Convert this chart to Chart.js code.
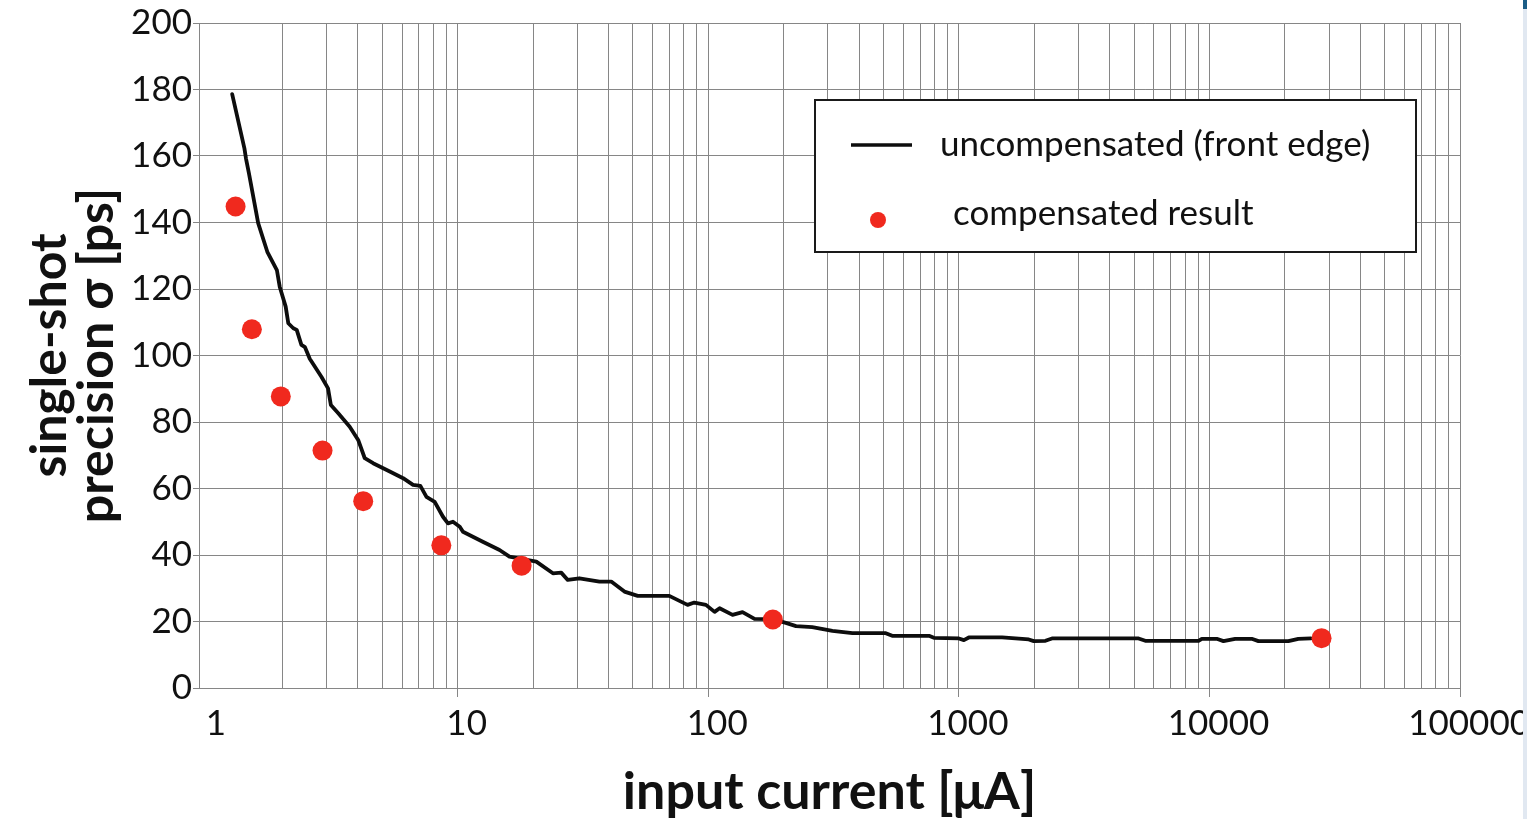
<!DOCTYPE html>
<html>
<head>
<meta charset="utf-8">
<script src="https://cdn.jsdelivr.net/npm/chart.js@4.4.1/dist/chart.umd.min.js"></script>
<style>
	html, body { margin: 0; padding: 0; background: #fff; overflow: hidden; }
	#wrap { position: relative; width: 1527px; height: 819px; }
	#edge { position: absolute; right: 0; top: 0; width: 4px; height: 819px; background: #e1e8f1; }
	#edgeTop { position: absolute; right: 0; top: 0; width: 4px; height: 9px; background: #1b5d86; }
</style>
</head>
<body>
<div id="wrap">
	<canvas id="chart" width="1527" height="819"></canvas>
	<div id="edge"></div>
	<div id="edgeTop"></div>
</div>
<script>
// uncompensated (front edge) curve
const uncompCurrent = [1.26, 1.41, 1.43, 1.47, 1.60, 1.74, 1.90, 1.95, 2.06, 2.11,
	2.21, 2.28, 2.38, 2.46, 2.57, 2.86, 3.04, 3.12, 3.34, 3.71,
	4.01, 4.26, 4.60, 5.36, 6.06, 6.64, 7.10, 7.51, 8.10, 8.74,
	9.15, 9.58, 10.2, 10.5, 12.6, 14.7, 16.1, 20.6, 24.0, 25.9,
	27.5, 30.6, 36.8, 41.0, 46.3, 52.3, 69.9, 82.7, 88.0, 97.9,
	106, 111, 125, 137, 153, 180, 204, 224, 260, 313,
	376, 511, 542, 760, 795, 1000, 1047, 1096, 1488, 1901,
	1990, 2215, 2353, 5214, 5543, 9042, 9319, 10690, 11370, 12660,
	14740, 15680, 20640, 22620, 25400];
const uncompSigma = [178.6, 162.3, 159.3, 154.8, 139.8, 131.2, 125.7, 120.7, 114.7, 109.7,
	108.2, 107.7, 103.2, 102.5, 99.0, 93.6, 90.1, 85.1, 82.6, 78.6,
	74.6, 69.1, 67.6, 65.1, 63.1, 61.1, 60.8, 57.5, 56.0, 51.5,
	49.5, 50.0, 48.5, 47.0, 44.0, 41.5, 39.5, 38.0, 34.5, 34.7,
	32.5, 33.0, 32.0, 32.0, 29.0, 27.7, 27.7, 25.0, 25.7, 25.0,
	22.9, 24.0, 22.0, 22.8, 20.8, 20.7, 19.6, 18.6, 18.3, 17.2,
	16.5, 16.5, 15.7, 15.7, 15.1, 14.9, 14.4, 15.2, 15.2, 14.6,
	14.1, 14.2, 14.9, 14.9, 14.2, 14.2, 14.8, 14.8, 14.1, 14.8,
	14.8, 14.1, 14.1, 14.8, 14.9];

// compensated result points
const compCurrent = [1.30, 1.51, 1.97, 2.89, 4.20, 8.61, 18.0, 181, 28000];
const compSigma = [144.8, 107.9, 87.7, 71.4, 56.2, 42.9, 36.8, 20.6, 15.0];

// axis ticks
const xDecades = [1, 10, 100, 1000, 10000, 100000];
const xTickLabels = ['1', '10', '100', '1000', '10000', '100000'];
const yTicks = [0, 20, 40, 60, 80, 100, 120, 140, 160, 180, 200];

const LINE_COLOR = '#0d0d0d';
const DOT_COLOR = '#f0291e';
const GRID = '#868686';

// 1..9 x each decade, for the log grid
const xGridValues = [];
xDecades.slice(0, -1).forEach(d => {
	for (let m = 1; m < 10; m++) xGridValues.push(d * m);
});
xGridValues.push(xDecades[xDecades.length - 1]);

const isDecade = (v) => xDecades.some(d => Math.abs(v - d) < d * 1e-6);

// legend drawn in a boxed panel inside the plot
const boxLegend = {
	id: 'boxLegend',
	afterDraw(chart) {
		const ctx = chart.ctx;
		const [line, dots] = chart.data.datasets;
		ctx.save();
		ctx.fillStyle = '#fff';
		ctx.fillRect(815, 100, 601, 152);
		ctx.lineWidth = 2;
		ctx.strokeStyle = '#1a1a1a';
		ctx.strokeRect(815, 100, 601, 152);

		ctx.beginPath();
		ctx.moveTo(851, 145);
		ctx.lineTo(912, 145);
		ctx.lineWidth = 3.5;
		ctx.strokeStyle = line.borderColor;
		ctx.stroke();

		ctx.beginPath();
		ctx.arc(878, 220, 8, 0, Math.PI * 2);
		ctx.fillStyle = dots.backgroundColor;
		ctx.fill();

		ctx.font = '35px Lato';
		ctx.textBaseline = 'middle';
		ctx.fillStyle = '#111';
		ctx.fillText(line.label, 940, 145);
		ctx.fillText(dots.label, 953, 214);
		ctx.restore();
	}
};

Chart.defaults.font.family = 'Lato';
Chart.defaults.color = '#111';

const data = {
	datasets: [
		{
			label: 'uncompensated (front edge)',
			data: uncompCurrent.map((x, i) => ({ x: x, y: uncompSigma[i] })),
			showLine: true,
			borderColor: LINE_COLOR,
			borderWidth: 3.8,
			borderJoinStyle: 'round',
			borderCapStyle: 'round',
			pointRadius: 0,
			tension: 0,
			order: 1,
		},
		{
			label: 'compensated result',
			data: compCurrent.map((x, i) => ({ x: x, y: compSigma[i] })),
			backgroundColor: DOT_COLOR,
			borderColor: DOT_COLOR,
			pointRadius: 10,
			pointBorderWidth: 0,
			order: 0,
		},
	]
};

const config = {
	type: 'scatter',
	data: data,
	plugins: [boxLegend],
	options: {
		responsive: false,
		animation: false,
		devicePixelRatio: 1,
		layout: { padding: { top: 23, right: 62, left: 0, bottom: 0 } },
		plugins: {
			legend: { display: false },
			tooltip: { enabled: false },
		},
		scales: {
			x: {
				type: 'logarithmic',
				min: 0.929,
				max: 100000,
				afterBuildTicks: (scale) => {
					scale.ticks = xGridValues.map(v => ({ value: v }));
				},
				afterFit: (scale) => { scale.height = 131; },
				ticks: {
					autoSkip: false,
					maxRotation: 0,
					minRotation: 0,
					padding: 6,
					labelOffset: 9,
					font: { size: 35 },
					callback: (value) => {
						const i = xDecades.findIndex(d => Math.abs(value - d) < d * 1e-6);
						return i >= 0 ? xTickLabels[i] : '';
					},
				},
				grid: {
					color: (ctx) => (ctx.tick && ctx.tick.value === 1) ? 'rgba(0,0,0,0)' : GRID,
					tickColor: (ctx) => (ctx.tick && isDecade(ctx.tick.value) && ctx.tick.value !== 1) ? GRID : 'rgba(0,0,0,0)',
					tickLength: 9,
					lineWidth: 1,
				},
				border: { color: GRID, width: 1 },
				title: {
					display: true,
					text: 'input current [\u03bcA]',
					font: { size: 52, weight: 'bold', lineHeight: 1 },
					padding: { top: 0, bottom: 1 },
				},
			},
			y: {
				min: 0,
				max: 200,
				afterBuildTicks: (scale) => {
					scale.ticks = yTicks.map(v => ({ value: v }));
				},
				afterFit: (scale) => { scale.width = 199; },
				ticks: {
					padding: 1,
					font: { size: 35 },
				},
				grid: {
					color: GRID,
					tickColor: GRID,
					tickLength: 6,
					lineWidth: 1,
				},
				border: { color: GRID, width: 1 },
				title: {
					display: true,
					text: ['single-shot', 'precision \u03c3 [ps]'],
					font: { size: 50, weight: 'bold', lineHeight: 0.95 },
					padding: { top: 26, bottom: 0 },
				},
			},
		},
	},
};

new Chart(document.getElementById('chart'), config);
</script>
</body>
</html>
